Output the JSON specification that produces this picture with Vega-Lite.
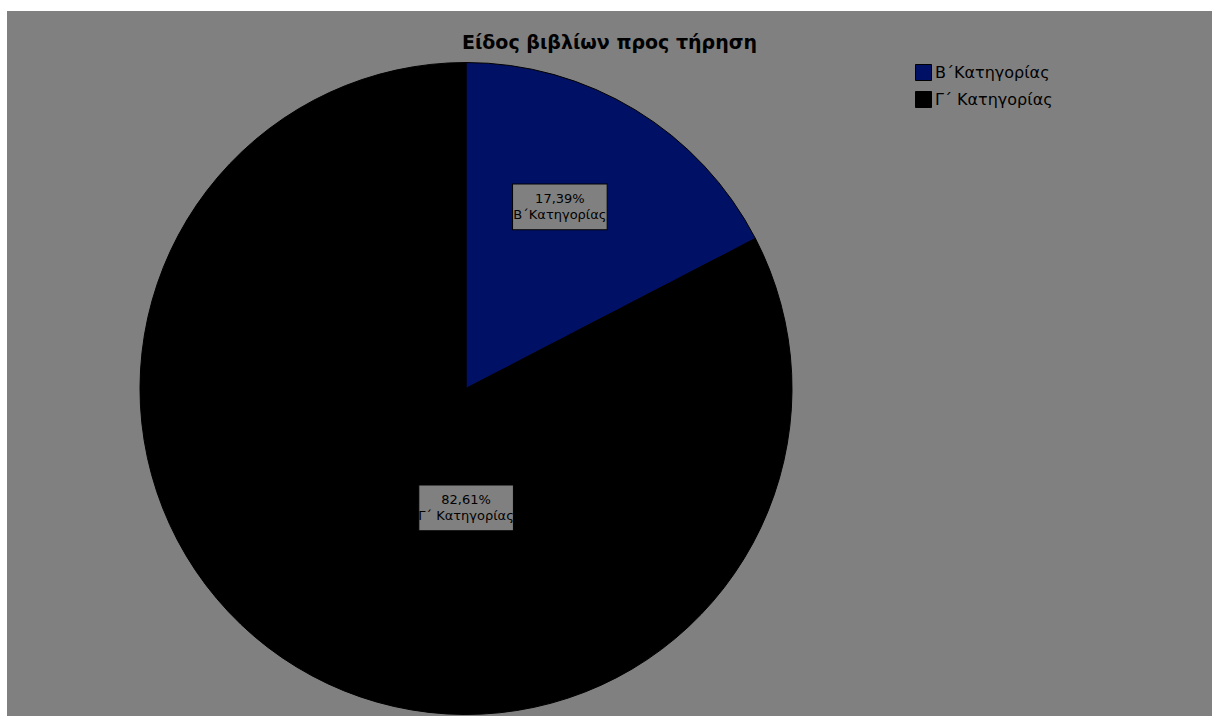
{
  "$schema": "https://vega.github.io/schema/vega-lite/v6.json",
  "background": "white",
  "padding": {"left": 7, "top": 11, "right": 0, "bottom": 0},
  "spacing": 0,
  "bounds": "flush",
  "config": {
    "view": {"fill": "#808080", "stroke": null},
    "concat": {"spacing": 0},
    "font": "DejaVu Sans"
  },
  "datasets": {
    "slices": [
      {"category": "Β΄Κατηγορίας", "value": 17.39, "label": ["17,39%", "Β΄Κατηγορίας"]},
      {"category": "Γ΄ Κατηγορίας", "value": 82.61, "label": ["82,61%", "Γ΄ Κατηγορίας"]}
    ],
    "titles": [{"title": "Είδος βιβλίων προς τήρηση"}]
  },
  "vconcat": [
    {
      "width": 1205,
      "height": 50,
      "view": {"fill": "#808080", "stroke": null},
      "data": {"name": "titles"},
      "mark": {"type": "text", "font": "DejaVu Sans", "fontWeight": "bold", "fontSize": 19, "color": "black", "baseline": "alphabetic", "align": "center", "dy": 13},
      "encoding": {"text": {"field": "title", "type": "nominal"}}
    },
    {
      "spacing": 0,
      "bounds": "flush",
      "hconcat": [
        {
          "width": 918,
          "height": 655,
          "view": {"fill": "#808080", "stroke": null},
          "data": {"name": "slices"},
          "encoding": {
            "theta": {"field": "value", "type": "quantitative", "stack": true}
          },
          "layer": [
            {
              "mark": {"type": "arc", "outerRadius": 326, "stroke": "black", "strokeWidth": 1},
              "encoding": {
                "color": {
                  "field": "category",
                  "type": "nominal",
                  "scale": {"domain": ["Β΄Κατηγορίας", "Γ΄ Κατηγορίας"], "range": ["#001064", "#000000"]},
                  "legend": {
                    "title": null,
                    "orient": "none",
                    "legendX": 908,
                    "legendY": 53,
                    "symbolType": "square",
                    "symbolSize": 256,
                    "symbolStrokeColor": "black",
                    "symbolStrokeWidth": 1,
                    "symbolOpacity": 1,
                    "labelFont": "DejaVu Sans",
                    "labelFontSize": 16,
                    "labelColor": "black",
                    "labelOffset": 3,
                    "rowPadding": 6
                  }
                }
              }
            },
            {
              "transform": [{"filter": "datum.category === 'Β΄Κατηγορίας'"}],
              "layer": [
                {
                  "mark": {"type": "text", "radius": 204, "thetaOffset": -0.068, "font": "DejaVu Sans", "fontSize": 124, "fill": "#808080", "stroke": "black", "strokeWidth": 1, "align": "center", "baseline": "middle", "dy": -5},
                  "encoding": {"text": {"value": "▬"}}
                },
                {
                  "mark": {"type": "text", "radius": 204, "thetaOffset": -0.068, "font": "DejaVu Sans", "fontSize": 13, "lineHeight": 16, "color": "black", "align": "center", "baseline": "middle", "dy": -8},
                  "encoding": {"text": {"field": "label"}}
                }
              ]
            },
            {
              "transform": [{"filter": "datum.category === 'Γ΄ Κατηγορίας'"}],
              "layer": [
                {
                  "mark": {"type": "text", "radius": 119, "thetaOffset": 0.546, "font": "DejaVu Sans", "fontSize": 124, "fill": "#808080", "stroke": "black", "strokeWidth": 1, "align": "center", "baseline": "middle", "dy": -5},
                  "encoding": {"text": {"value": "▬"}}
                },
                {
                  "mark": {"type": "text", "radius": 119, "thetaOffset": 0.546, "font": "DejaVu Sans", "fontSize": 13, "lineHeight": 16, "color": "black", "align": "center", "baseline": "middle", "dy": -8},
                  "encoding": {"text": {"field": "label"}}
                }
              ]
            }
          ]
        },
        {
          "width": 287,
          "height": 655,
          "view": {"fill": "#808080", "stroke": null},
          "data": {"values": []},
          "mark": "text",
          "encoding": {}
        }
      ]
    }
  ]
}
